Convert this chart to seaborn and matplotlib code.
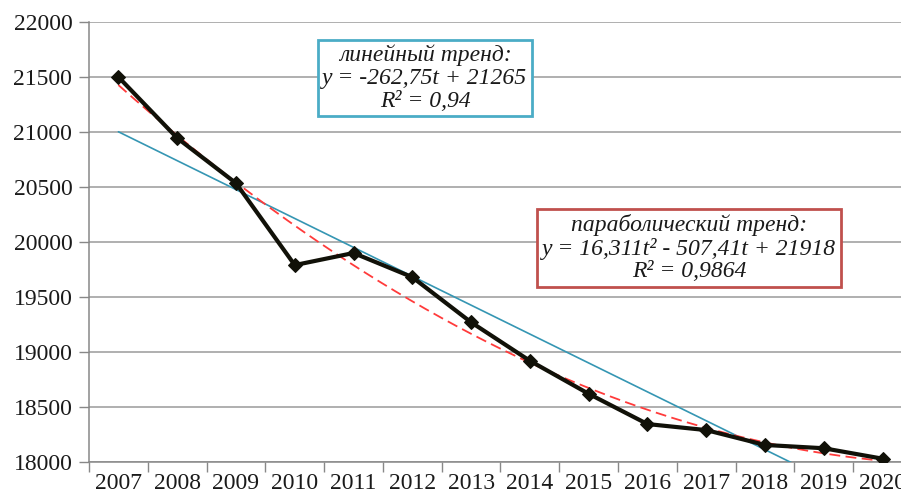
import numpy as np
import pandas as pd
import matplotlib
matplotlib.use("Agg")
import matplotlib.pyplot as plt
import seaborn as sns

years = [2007, 2008, 2009, 2010, 2011, 2012, 2013, 2014, 2015, 2016, 2017, 2018, 2019, 2020]
values = [21500, 20945, 20535, 19790, 19900, 19680, 19270, 18920, 18620, 18345, 18290, 18155, 18125, 18030]
linear_coef = [-262.75, 21265]          # y = a*t + b
parab_coef = [16.311, -507.41, 21918]   # y = a*t^2 + b*t + c
y_ticks = [18000, 18500, 19000, 19500, 20000, 20500, 21000, 21500, 22000]

sns.set_theme(style="white")
plt.rcParams['font.family'] = ['Liberation Serif', 'DejaVu Serif']

fig = plt.figure(figsize=(9.01, 4.97), dpi=100)
W, H = 901, 497
ax = fig.add_axes([89 / W, 1 - 462 / H, (912 - 89) / W, (462 - 22) / H])

pos = np.arange(len(years))
df = pd.DataFrame({"pos": pos, "value": values})

# trend lines
tt = np.linspace(1, len(years), 200)
lin = np.polyval(linear_coef, tt)
par = np.polyval(parab_coef, tt)
trend = pd.DataFrame({"pos": tt - 1, "lin": lin, "par": par})
sns.lineplot(data=trend, x="pos", y="lin", ax=ax, color="#3596b3", linewidth=1.2, zorder=3)
sns.lineplot(data=trend, x="pos", y="par", ax=ax, color="#ff3b3b", linewidth=1.3,
             linestyle=(0, (6, 3)), zorder=4)

sns.lineplot(data=df, x="pos", y="value", ax=ax, color="#111108", linewidth=3,
             marker="D", markersize=7, markeredgecolor="#111108", zorder=5)

ax.set_xlim(-0.5, len(years) - 0.5)
ax.set_ylim(18000, 22000)
ax.set_yticks(y_ticks)
ax.set_yticklabels([str(v) for v in y_ticks], fontsize=17, color="#1a1a1a")
ax.set_xticks(pos - 0.5)
ax.set_xticklabels([])
ax.set_xticks(pos, minor=True)
ax.set_xticklabels([str(y) for y in years], minor=True, fontsize=17, color="#1a1a1a")
ax.tick_params(axis="x", which="major", length=7, width=1, color="#888888", direction="out", bottom=True)
ax.tick_params(axis="x", which="minor", length=0, pad=8, bottom=True)
ax.tick_params(axis="y", length=7, width=1, color="#888888", direction="out", left=True, pad=5)
ax.set_xlabel("")
ax.set_ylabel("")
ax.grid(axis="y", color="#9a9a9a", linewidth=1.1)
ax.grid(axis="x", visible=False)
for s in ["top", "right"]:
    ax.spines[s].set_visible(False)
for s in ["left", "bottom"]:
    ax.spines[s].set_color("#888888")
    ax.spines[s].set_linewidth(1.1)

ax.text(425 / W, 1 - 78 / H,
        "линейный тренд:\ny = -262,75t + 21265\nR² = 0,94",
        transform=fig.transFigure, ha="center", va="center", style="italic",
        fontsize=17, color="#1a1a1a", linespacing=1.12, zorder=6,
        bbox=dict(boxstyle="square,pad=0.2", facecolor="white", edgecolor="#4bacc6", linewidth=2))
ax.text(689 / W, 1 - 248 / H,
        "параболический тренд:\ny = 16,311t² - 507,41t + 21918\nR² = 0,9864",
        transform=fig.transFigure, ha="center", va="center", style="italic",
        fontsize=17, color="#1a1a1a", linespacing=1.08, zorder=6,
        bbox=dict(boxstyle="square,pad=0.2", facecolor="white", edgecolor="#c0504d", linewidth=2))

fig.savefig("out.png", dpi=100)
